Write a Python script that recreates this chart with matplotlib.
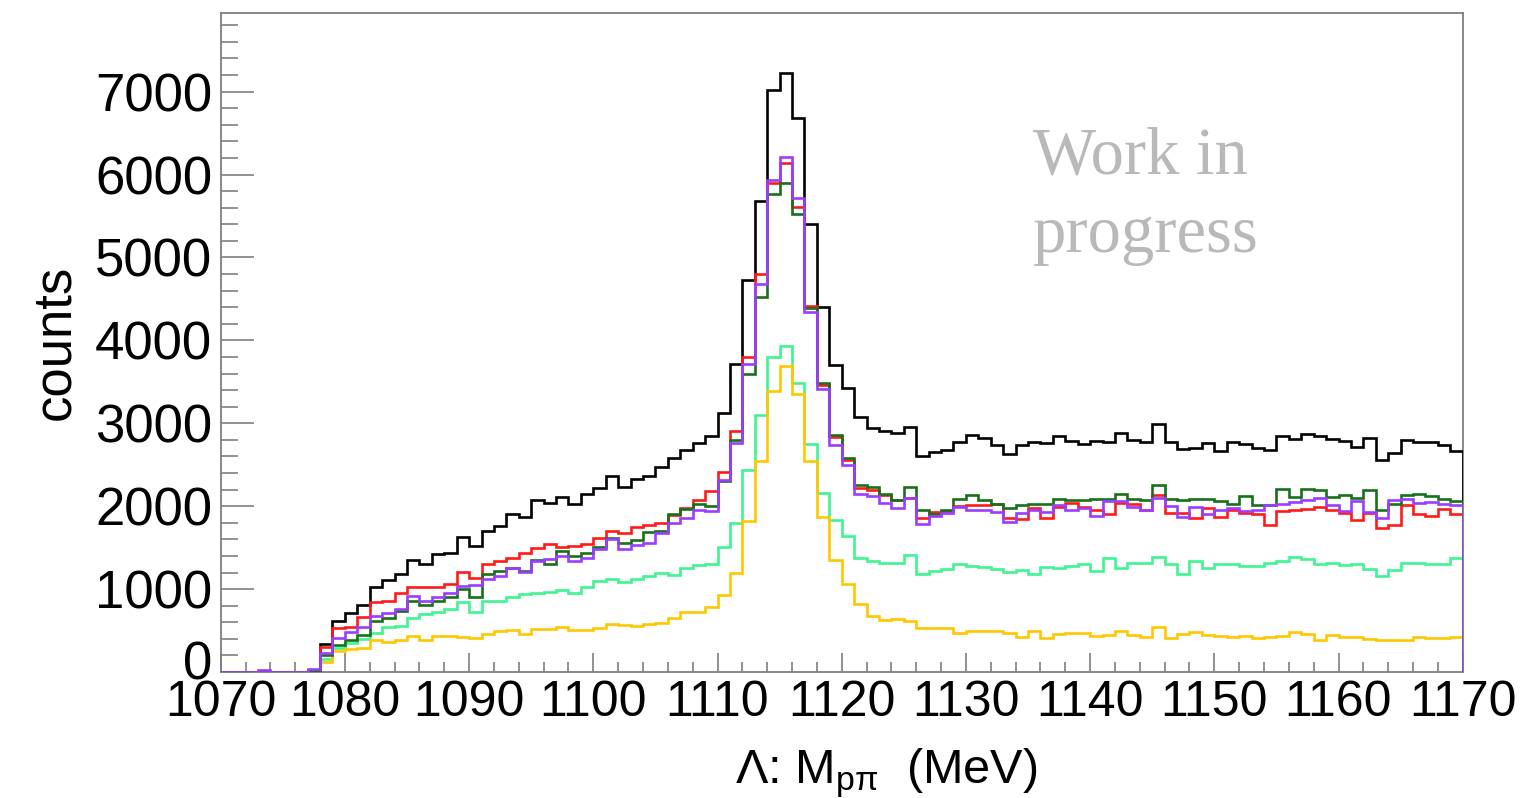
import matplotlib
matplotlib.use("Agg")
import matplotlib.pyplot as plt
import matplotlib.transforms as mtransforms
import numpy as np
from matplotlib.ticker import MultipleLocator

# ---------------- data ----------------
bin_low = 1070
bin_high = 1170
n_bins = 100

black = [5, 3, 4, 6, 4, 5, 6, 15,
         340, 620, 712, 812, 1028, 1108, 1180, 1348, 1300, 1420, 1440, 1630,
         1515, 1700, 1760, 1900, 1872, 2080, 2040, 2112, 2028, 2148,
         2220, 2368, 2228, 2328, 2368, 2472, 2580, 2680, 2760, 2850,
         3120, 3714, 4730, 5682, 7015, 7220, 6686, 5401, 4404, 3705,
         3430, 3080, 2940, 2908, 2880, 2952, 2600, 2652, 2680, 2772,
         2860, 2820, 2740, 2632, 2732, 2772, 2768, 2848, 2788, 2752,
         2788, 2780, 2888, 2800, 2775, 2992, 2780, 2688, 2700, 2760,
         2668, 2772, 2748, 2700, 2680, 2852, 2812, 2868, 2852, 2812,
         2788, 2708, 2828, 2560, 2640, 2800, 2772, 2780, 2740, 2668]

red = [3, 2, 3, 5, 3, 3, 4, 10,
       300, 528, 548, 660, 840, 860, 948, 1028, 1028, 1028, 1060, 1210,
       1128, 1300, 1340, 1380, 1440, 1500, 1540, 1512, 1520, 1540,
       1620, 1700, 1680, 1752, 1768, 1792, 1888, 1980, 2080, 2180,
       2410, 2910, 3794, 4806, 5903, 6144, 5609, 4416, 3460, 2840,
       2560, 2220, 2190, 2132, 2072, 2100, 1860, 1932, 1940, 2000,
       2020, 2020, 2028, 1860, 1848, 1980, 1852, 1988, 2040, 1988,
       1960, 1900, 2040, 2028, 1960, 2132, 1920, 1920, 1860, 1980,
       1868, 1960, 1920, 1908, 1772, 1940, 1948, 1972, 1988, 1960,
       1920, 1828, 1920, 1740, 1772, 2012, 1900, 1880, 1968, 1900]

dark_green = [3, 2, 3, 5, 3, 3, 4, 10,
              200, 320, 388, 452, 612, 648, 732, 852, 812, 860, 908, 1000,
              905, 1188, 1220, 1260, 1220, 1352, 1300, 1460, 1400, 1440,
              1512, 1620, 1552, 1588, 1688, 1700, 1908, 1972, 2028, 2000,
              2300, 2800, 3593, 4524, 5770, 5903, 5529, 4396, 3480, 2860,
              2580, 2260, 2230, 2148, 2072, 2228, 1960, 1908, 1960, 2088,
              2140, 2080, 2028, 1980, 2012, 2028, 2028, 2092, 2080, 2080,
              2092, 2092, 2148, 2092, 2080, 2252, 2092, 2080, 2092, 2092,
              2060, 2028, 2120, 2012, 2012, 2212, 2108, 2212, 2200, 2108,
              2140, 2100, 2192, 1948, 2028, 2140, 2152, 2120, 2092, 2068]

purple = [5, 4, 5, 20, 5, 5, 6, 40,
          228, 408, 480, 540, 672, 712, 760, 912, 852, 900, 948, 1040,
          1048, 1120, 1160, 1260, 1208, 1340, 1360, 1400, 1340, 1380,
          1480, 1600, 1480, 1532, 1552, 1680, 1800, 1860, 1960, 1940,
          2320, 2768, 3713, 4677, 5931, 6212, 5722, 4348, 3412, 2740,
          2500, 2150, 2120, 2040, 1980, 2100, 1780, 1880, 1920, 1988,
          1960, 1960, 1928, 1808, 1920, 1960, 1932, 2012, 1960, 1980,
          1880, 2060, 2060, 1988, 1948, 2100, 2000, 1868, 1988, 1908,
          1960, 1980, 1940, 1960, 2020, 2028, 2052, 2080, 2100, 2020,
          1940, 2060, 1932, 1860, 2080, 2092, 2040, 2052, 2028, 2012]

spring = [2, 2, 2, 3, 2, 2, 3, 8,
          160, 288, 348, 400, 468, 540, 560, 648, 700, 720, 760, 840,
          720, 860, 860, 900, 940, 952, 968, 988, 952, 1028,
          1100, 1120, 1080, 1120, 1160, 1192, 1168, 1260, 1288, 1308,
          1512, 1800, 2440, 3100, 3794, 3934, 3480, 2752, 2160, 1828,
          1640, 1380, 1340, 1320, 1320, 1412, 1188, 1220, 1240, 1308,
          1280, 1272, 1240, 1212, 1232, 1188, 1268, 1260, 1280, 1300,
          1220, 1372, 1252, 1320, 1310, 1392, 1308, 1188, 1340, 1260,
          1308, 1300, 1280, 1280, 1320, 1340, 1388, 1360, 1308, 1320,
          1292, 1308, 1240, 1160, 1228, 1320, 1320, 1308, 1300, 1372]

yellow = [2, 2, 2, 3, 2, 2, 3, 8,
          120, 248, 280, 288, 380, 360, 380, 432, 388, 440, 440, 428,
          405, 460, 500, 512, 460, 520, 520, 540, 508, 508,
          532, 580, 568, 552, 580, 592, 648, 720, 720, 790,
          930, 1200, 1820, 2540, 3390, 3690, 3350, 2550, 1870, 1350,
          1060, 820, 680, 628, 640, 612, 532, 532, 532, 472,
          500, 492, 492, 472, 420, 492, 408, 460, 468, 468,
          440, 452, 492, 452, 428, 540, 412, 460, 480, 452,
          440, 428, 440, 412, 420, 440, 480, 460, 388, 452,
          420, 420, 400, 380, 388, 388, 420, 412, 412, 420]

series = [
    ("black", black, "#000000"),
    ("spring", spring, "#3ef592"),
    ("yellow", yellow, "#ffc700"),
    ("red", red, "#ff1a1a"),
    ("dark_green", dark_green, "#17701a"),
    ("purple", purple, "#9b3dff"),
]

x_ticks = list(range(1070, 1171, 10))
y_ticks = [0, 1000, 2000, 3000, 4000, 5000, 6000, 7000]

# ---------------- figure ----------------
W, H = 1525, 798
fig = plt.figure(figsize=(W / 100, H / 100), dpi=100)
ax = fig.add_axes([220.7 / W, 1 - 672 / H, (1462.7 - 220.7) / W, (672 - 13.3) / H])

edges = np.linspace(bin_low, bin_high, n_bins + 1)
for name, vals, col in series:
    ax.stairs(vals, edges, baseline=0, color=col, linewidth=1.9, zorder=3)

ax.set_xlim(bin_low, bin_high)
ax.set_ylim(0, 7945)

frame_col = "#7f7f7f"
for sp in ax.spines.values():
    sp.set_color(frame_col)
    sp.set_linewidth(1.3)

ax.set_xticks(x_ticks)
ax.set_xticklabels([str(t) for t in x_ticks])
ax.set_yticks(y_ticks)
ax.set_yticklabels([str(t) for t in y_ticks])
ax.xaxis.set_minor_locator(MultipleLocator(2))
ax.yaxis.set_minor_locator(MultipleLocator(200))

ax.tick_params(axis="x", which="major", direction="in", length=14, width=1.2,
               color=frame_col, labelsize=36, pad=6, top=False)
ax.tick_params(axis="x", which="minor", direction="in", length=7, width=1.2,
               color=frame_col, top=False)
ax.tick_params(axis="y", which="major", direction="in", length=24, width=1.2,
               color=frame_col, labelsize=38, pad=6, right=False)
ax.tick_params(axis="y", which="minor", direction="in", length=12, width=1.2,
               color=frame_col, right=False)

for lab in ax.get_xticklabels() + ax.get_yticklabels():
    lab.set_fontfamily("Liberation Sans")

# nudge the "0" label on the y axis slightly upwards (as in the reference)
zero_tick = ax.yaxis.get_major_ticks()[0]
zero_tick.label1.set_transform(zero_tick.label1.get_transform() +
                               mtransforms.ScaledTranslation(0, 9 / 72, fig.dpi_scale_trans))

plt.rcParams["mathtext.fontset"] = "custom"
plt.rcParams["mathtext.rm"] = "Liberation Sans"
plt.rcParams["mathtext.default"] = "regular"

fig.text(55 / W, 1 - 342 / H, "counts", rotation=90, ha="center", va="center",
         fontsize=38, family="Liberation Sans")
fig.text(886 / W, 1 - 783 / H, "Λ: M$_{pπ}$  (MeV)", ha="center", va="baseline",
         fontsize=35, family="Liberation Sans")

fig.text(1033 / W, 1 - 173.3 / H, "Work in", ha="left", va="baseline",
         fontsize=48, family="Liberation Serif", color="#b9b9b9")
fig.text(1033 / W, 1 - 251.5 / H, "progress", ha="left", va="baseline",
         fontsize=48, family="Liberation Serif", color="#b9b9b9")

fig.savefig("out.png", dpi=100, facecolor="white")
